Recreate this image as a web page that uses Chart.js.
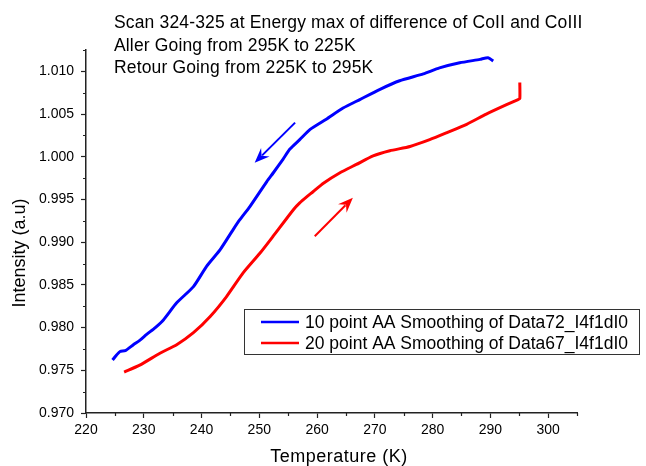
<!DOCTYPE html>
<html>
<head>
<meta charset="utf-8">
<script src="https://cdn.jsdelivr.net/npm/chart.js@4"></script>
<style>
  html, body { margin: 0; padding: 0; background: #fff; }
  #wrap { width: 646px; height: 466px; position: relative; }
</style>
</head>
<body>
<div id="wrap"><canvas id="chart"></canvas></div>
<script>
// Values
const titleLines = [
    'Scan 324-325 at Energy max of difference of CoII and CoIII',
    'Aller Going from 295K to 225K',
    'Retour Going from 225K to 295K'
];

const allerLabel = '10 point AA Smoothing of Data72_I4f1dI0';
const allerTemp = [224.6, 225.3, 225.9, 226.8, 228.2, 229.3, 230.5, 232.0, 233.4, 235.7, 238.6, 240.9, 243.2, 245.5, 246.6, 248.4, 251.3, 252.4, 254.1, 255.3, 257.0, 258.8, 261.6, 264.5, 267.4, 270.9, 274.3, 278.4, 281.2, 284.7, 288.2, 289.6, 290.5];
const allerInt  = [0.9762, 0.9768, 0.9772, 0.9773, 0.9780, 0.9785, 0.9792, 0.9800, 0.9809, 0.9829, 0.9848, 0.9872, 0.9891, 0.9915, 0.9926, 0.9942, 0.9971, 0.9981, 0.9997, 1.0009, 1.0020, 1.0032, 1.0044, 1.0057, 1.0067, 1.0079, 1.0089, 1.0097, 1.0104, 1.0110, 1.0114, 1.0116, 1.0112];

const retourLabel = '20 point AA Smoothing of Data67_I4f1dI0';
const retourTemp = [226.6, 229.3, 232.8, 235.7, 238.6, 241.5, 244.3, 247.2, 250.1, 252.4, 255.9, 257.0, 258.2, 259.3, 261.1, 263.9, 266.8, 269.7, 272.6, 276.1, 279.5, 282.4, 285.9, 289.3, 292.8, 294.8, 295.1, 295.1];
const retourInt  = [0.9748, 0.9756, 0.9770, 0.9780, 0.9794, 0.9813, 0.9836, 0.9864, 0.9887, 0.9907, 0.9938, 0.9946, 0.9953, 0.9959, 0.9969, 0.9981, 0.9991, 1.0001, 1.0007, 1.0012, 1.0020, 1.0028, 1.0038, 1.0050, 1.0061, 1.0067, 1.0068, 1.0087];

// arrows: [x0, y0, x1, y1] in data units
const allerArrow  = [256.2, 1.0040, 249.2, 0.9993];
const retourArrow = [259.6, 0.9907, 266.2, 0.9952];

const xTicks = [220, 230, 240, 250, 260, 270, 280, 290, 300];
const xMinorTicks = [225, 235, 245, 255, 265, 275, 285, 295, 305];
const yTicks = [0.970, 0.975, 0.980, 0.985, 0.990, 0.995, 1.000, 1.005, 1.010];
const yMinorTicks = [0.9725, 0.9775, 0.9825, 0.9875, 0.9925, 0.9975, 1.0025, 1.0075, 1.0125];

const FONT = "Arial, 'Liberation Sans', sans-serif";
const AXIS_COLOR = '#222';

function toPoints(xs, ys) {
    return xs.map((x, i) => ({ x: x, y: ys[i] }));
}

function drawArrow(ctx, chart, a, color) {
    const xs = chart.scales.x, ys = chart.scales.y;
    const x0 = xs.getPixelForValue(a[0]), y0 = ys.getPixelForValue(a[1]);
    const x1 = xs.getPixelForValue(a[2]), y1 = ys.getPixelForValue(a[3]);
    const ang = Math.atan2(y1 - y0, x1 - x0);
    const c = Math.cos(ang), s = Math.sin(ang);
    const head = 15, half = 6;
    ctx.save();
    ctx.strokeStyle = color;
    ctx.fillStyle = color;
    ctx.lineWidth = 2;
    ctx.beginPath();
    ctx.moveTo(x0, y0);
    ctx.lineTo(x1 - c * head * 0.7, y1 - s * head * 0.7);
    ctx.stroke();
    ctx.beginPath();
    ctx.moveTo(x1, y1);
    ctx.lineTo(x1 - c * head - s * half, y1 - s * head + c * half);
    ctx.lineTo(x1 - c * head * 0.65, y1 - s * head * 0.65);
    ctx.lineTo(x1 - c * head + s * half, y1 - s * head - c * half);
    ctx.closePath();
    ctx.fill();
    ctx.restore();
}

// Texts, minor ticks, arrows and the legend box
const decorPlugin = {
    id: 'decor',
    afterDraw(chart) {
        const ctx = chart.ctx;
        const xs = chart.scales.x, ys = chart.scales.y;
        const area = chart.chartArea;

        // minor ticks
        ctx.save();
        ctx.strokeStyle = AXIS_COLOR;
        ctx.lineWidth = 1.2;
        ctx.beginPath();
        xMinorTicks.forEach(v => {
            const px = Math.round(xs.getPixelForValue(v)) + 0.5;
            ctx.moveTo(px, area.bottom);
            ctx.lineTo(px, area.bottom + 3);
        });
        yMinorTicks.forEach(v => {
            const py = Math.round(ys.getPixelForValue(v)) + 0.5;
            ctx.moveTo(area.left, py);
            ctx.lineTo(area.left - 3, py);
        });
        ctx.stroke();
        ctx.restore();

        drawArrow(ctx, chart, allerArrow, '#0000ff');
        drawArrow(ctx, chart, retourArrow, '#ff0000');

        ctx.save();
        ctx.fillStyle = '#000';
        ctx.font = '17.5px ' + FONT;
        ctx.letterSpacing = '0.15px';
        ctx.textAlign = 'left';
        ctx.textBaseline = 'alphabetic';
        titleLines.forEach((t, i) => ctx.fillText(t, 114, 28 + i * 22.5));

        // axis titles
        ctx.font = '18px ' + FONT;
        ctx.letterSpacing = '0.5px';
        ctx.textAlign = 'center';
        ctx.textBaseline = 'middle';
        ctx.fillText('Temperature (K)', 339, 457);
        ctx.letterSpacing = '0px';
        ctx.save();
        ctx.translate(20, 253);
        ctx.rotate(-Math.PI / 2);
        ctx.fillText('Intensity (a.u)', 0, 0);
        ctx.restore();

        // legend
        ctx.strokeStyle = '#333';
        ctx.lineWidth = 1;
        ctx.strokeRect(244.5, 309.5, 395, 45);
        ctx.font = '17.5px ' + FONT;
        ctx.textAlign = 'left';
        chart.data.datasets.forEach((ds, i) => {
            const y = 322 + i * 21;
            ctx.strokeStyle = ds.borderColor;
            ctx.lineWidth = 2.5;
            ctx.beginPath();
            ctx.moveTo(261, y);
            ctx.lineTo(299, y);
            ctx.stroke();
            ctx.fillStyle = '#000';
            ctx.fillText(ds.label, 305, y + 1);
        });
        ctx.restore();
    }
};

new Chart(document.getElementById('chart'), {
    type: 'line',
    data: {
        datasets: [{
            label: allerLabel,
            data: toPoints(allerTemp, allerInt),
            borderColor: '#0000ff',
            borderWidth: 3,
            pointRadius: 0,
            tension: 0.2
        }, {
            label: retourLabel,
            data: toPoints(retourTemp, retourInt),
            borderColor: '#ff0000',
            borderWidth: 3,
            pointRadius: 0,
            tension: 0.2
        }]
    },
    options: {
        responsive: true,
        maintainAspectRatio: false,
        animation: false,
        layout: {
            padding: { top: 50, right: 69, bottom: 0, left: 0 }
        },
        plugins: {
            legend: { display: false },
            tooltip: { enabled: false }
        },
        scales: {
            x: {
                type: 'linear',
                min: 220,
                max: 305,
                afterBuildTicks: scale => { scale.ticks = xTicks.map(v => ({ value: v })); },
                afterFit: scale => { scale.height = 53; },
                grid: {
                    drawOnChartArea: false,
                    drawTicks: true,
                    tickLength: 5,
                    tickColor: AXIS_COLOR,
                    tickWidth: 1.2
                },
                border: { display: true, color: AXIS_COLOR, width: 1.5 },
                ticks: {
                    color: '#000',
                    font: { family: FONT, size: 14 },
                    padding: 4,
                    maxRotation: 0,
                    callback: v => String(v)
                }
            },
            y: {
                type: 'linear',
                min: 0.970,
                max: 1.0125,
                afterBuildTicks: scale => { scale.ticks = yTicks.map(v => ({ value: v })); },
                afterFit: scale => { scale.width = 86; },
                grid: {
                    drawOnChartArea: false,
                    drawTicks: true,
                    tickLength: 5,
                    tickColor: AXIS_COLOR,
                    tickWidth: 1.2
                },
                border: { display: true, color: AXIS_COLOR, width: 1.5 },
                ticks: {
                    color: '#000',
                    font: { family: FONT, size: 14 },
                    padding: 7,
                    callback: v => Number(v).toFixed(3)
                }
            }
        }
    },
    plugins: [decorPlugin]
});
</script>
</body>
</html>
